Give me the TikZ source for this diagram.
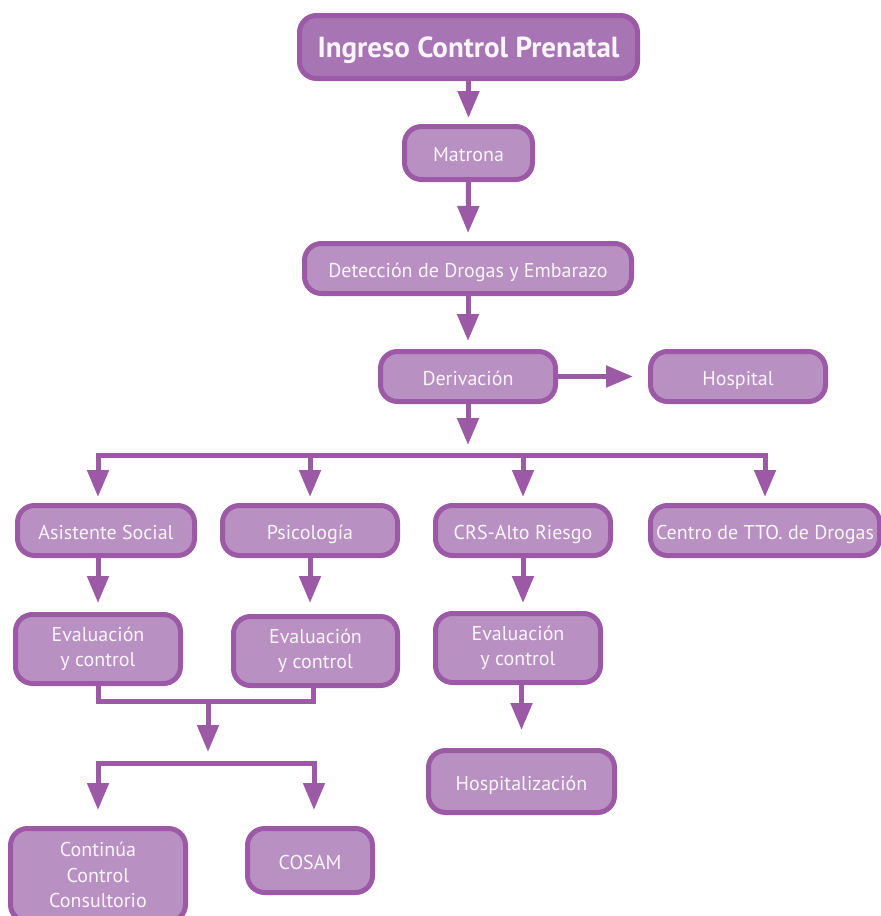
\documentclass[tikz,border=0pt]{standalone}
\usepackage{fontspec}
\setmainfont{PT Sans}
\usetikzlibrary{arrows.meta}
\definecolor{edge}{HTML}{9B59A6}
\definecolor{boxfill}{HTML}{B990C2}
\definecolor{headfill}{HTML}{A775B3}
\definecolor{txt}{HTML}{FAF5FB}
\begin{document}
\begin{tikzpicture}[x=1pt,y=-1pt,
  box/.style={draw=edge, fill=boxfill, line width=5pt, rounded corners=17pt,
    text=txt, font=\fontsize{20}{25.5}\selectfont, inner sep=0pt, align=center},
  oneline/.style={text height=19pt, text depth=2pt},
  link/.style={draw=edge, line width=5pt},
  arr/.style={link, -{Triangle[length=27pt,width=21pt]}},
]
\useasboundingbox (0,0) rectangle (881,916);

% main chain
\node[box, fill=headfill, minimum width=338pt, minimum height=63pt,
      text height=22pt, text depth=2pt,
      font=\fontsize{29}{32}\selectfont\bfseries] (top) at (468.5,47) {Ingreso Control Prenatal};
\node[box, oneline, minimum width=128pt, minimum height=53pt] (matrona) at (468.5,153) {Matrona};
\node[box, oneline, minimum width=327pt, minimum height=50pt] (detec) at (468,268.5) {Detección de Drogas y Embarazo};
\node[box, oneline, minimum width=175pt, minimum height=50pt] (deriv) at (468,376.5) {Derivación};
\node[box, oneline, minimum width=175pt, minimum height=50pt] (hospital) at (738,376.5) {Hospital};

% second level
\node[box, oneline, minimum width=177pt, minimum height=50pt] (asist) at (106,530.5) {Asistente Social};
\node[box, oneline, minimum width=175pt, minimum height=50pt] (psico) at (310,530.5) {Psicología};
\node[box, oneline, minimum width=175pt, minimum height=50pt] (crs) at (523,530.5) {CRS-Alto Riesgo};
\node[box, oneline, minimum width=229pt, minimum height=50pt] (centro) at (765,530.5) {Centro de TTO. de Drogas};

% evaluations
\node[box, minimum width=165pt, minimum height=69pt] (evalA) at (98,649) {Evaluación\\y control};
\node[box, minimum width=164pt, minimum height=69pt] (evalB) at (315.5,651) {Evaluación\\y control};
\node[box, minimum width=165pt, minimum height=69pt] (evalC) at (518,648) {Evaluación\\y control};
\node[box, oneline, minimum width=186pt, minimum height=62pt] (hospz) at (521.5,781.5) {Hospitalización};

% outcomes
\node[box, minimum width=175pt, minimum height=93pt] (contin) at (98,875) {Continúa\\Control\\Consultorio};
\node[box, oneline, minimum width=125pt, minimum height=64pt] (cosam) at (310,860.5) {COSAM};

% connectors
\draw[arr, shorten >=6pt] (top.south) -- (matrona.north);
\draw[arr, shorten >=8pt] (matrona.south) -- (detec.north);
\draw[arr, shorten >=8pt] (detec.south) -- (deriv.north);
\draw[arr, shorten >=15pt] (deriv.east) -- (hospital.west);

\coordinate (bus) at (468,455);
\draw[arr, shorten >=10pt] (deriv.south) -- (bus);
\draw[arr, shorten >=6pt] (bus) -| ([xshift=-8pt]asist.north);
\draw[arr, shorten >=6pt] (bus) -| (psico.north);
\draw[arr, shorten >=6pt] (bus) -| (crs.north);
\draw[arr, shorten >=6pt] (bus) -| (centro.north);

\draw[arr, shorten >=9pt] (asist.south -| evalA.north) -- (evalA.north);
\draw[arr, shorten >=11pt] (psico.south) -- (psico.south |- evalB.north);
\draw[arr, shorten >=8pt] (crs.south) -- (crs.south |- evalC.north);
\draw[arr, shorten >=18pt] (evalC.south -| hospz.north) -- (hospz.north);

\coordinate (join) at (208,701);
\coordinate (split) at (208,763);
\draw[link] (evalA.south) |- (join) -| ([xshift=-2pt]evalB.south);
\draw[arr, shorten >=11pt] (join) -- (split);
\draw[arr, shorten >=16pt] (split) -| (contin.north);
\draw[arr, shorten >=16pt] (split) -| ([xshift=4pt]cosam.north);
\end{tikzpicture}
\end{document}
